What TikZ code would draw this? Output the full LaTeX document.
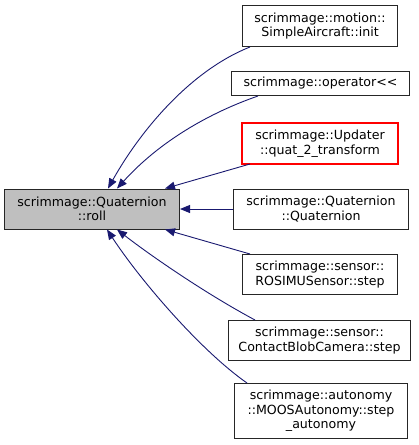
\documentclass[tikz,border=0pt]{standalone}
\usepackage{fontspec}
\setmainfont{DejaVu Sans}
\usetikzlibrary{arrows.meta,calc}
\definecolor{edgeblue}{HTML}{191970}
\definecolor{mainfill}{HTML}{BFBFBF}
\definecolor{redline}{HTML}{FF0000}
\tikzset{
  fn/.style={draw=black!85, line width=1pt, fill=white, align=center, inner sep=0pt,
    font=\fontsize{12.6}{14.5}\selectfont},
  redbox/.style={draw=redline, line width=1.1pt},
  edge/.style={draw=edgeblue, line width=0.9pt, -{Triangle[length=10pt,width=8pt]}},
}
\begin{document}
\begin{tikzpicture}[x=1pt,y=-1pt]
\useasboundingbox (-0.5,-0.5) rectangle (418.5,444.5);
\node[fn, fill=mainfill, minimum width=175pt, minimum height=40pt] (main) at (91.5,208.5) {scrimmage::Quaternion\\::roll};
\node[fn, minimum width=155pt, minimum height=41pt] (n1) at (319.5,25.5) {scrimmage::motion::\\SimpleAircraft::init};
\node[fn, minimum width=178pt, minimum height=24pt] (n2) at (320,83) {scrimmage::operator<{}<};
\node[fn, draw=none, minimum width=155pt, minimum height=40pt] (n3) at (319.5,143) {scrimmage::Updater\\::quat\_2\_transform};
\draw[redbox] (n3.south west) rectangle (n3.north east);
\node[fn, minimum width=175pt, minimum height=40pt] (n4) at (320.5,208.5) {scrimmage::Quaternion\\::Quaternion};
\node[fn, minimum width=155pt, minimum height=40pt] (n5) at (319.5,274) {scrimmage::sensor::\\ROSIMUSensor::step};
\node[fn, minimum width=182pt, minimum height=40pt] (n6) at (319,340) {scrimmage::sensor::\\ContactBlobCamera::step};
\node[fn, minimum width=173pt, minimum height=55pt] (n7) at (320.5,410.5) {scrimmage::autonomy\\::MOOSAutonomy::step\\\_autonomy};

\draw[edge] ($(n1.south west)+(8,0)$) .. controls (190,70) and (140,130) .. ($(main.north west)+(104,0)$);
\draw[edge] ($(n2.south west)+(27,0)$) .. controls (210,112) and (160,140) .. ($(main.north west)+(113,0)$);
\draw[edge] ($(n3.south west)+(8,0)$) -- ($(main.north west)+(161,0)$);
\draw[edge] (n4.west) -- (main.east);
\draw[edge] ($(n5.north west)+(8,0)$) -- ($(main.south west)+(161,0)$);
\draw[edge] ($(n6.north west)+(27,0)$) .. controls (205,293) and (150,255) .. ($(main.south west)+(113,0)$);
\draw[edge] ($(n7.north west)+(13,0)$) .. controls (200,350) and (140,280) .. ($(main.south west)+(103,0)$);
\end{tikzpicture}
\end{document}
